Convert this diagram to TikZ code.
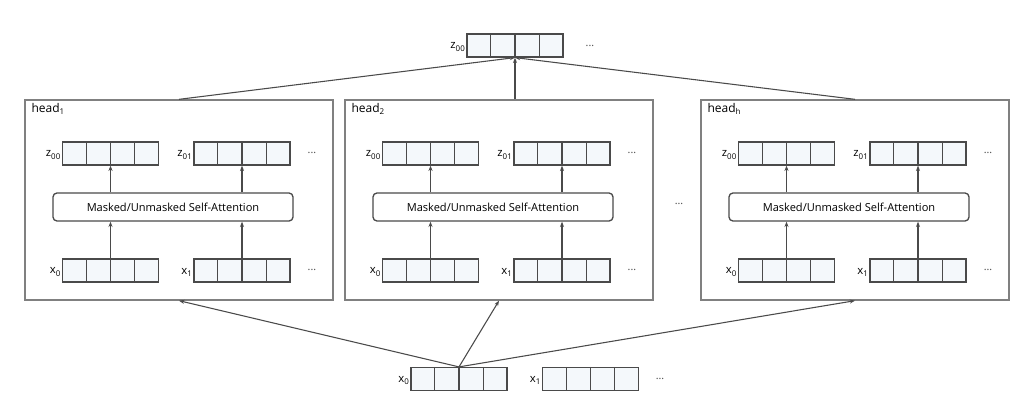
\documentclass[tikz,border=0pt]{standalone}
\usepackage{fontspec}
\setmainfont{Open Sans}
\usetikzlibrary{calc,arrows.meta}
\definecolor{cellfill}{HTML}{F4F8FB}
\definecolor{linecol}{HTML}{4A4A4A}
\definecolor{boxcol}{HTML}{808080}
\tikzset{
  vecnode/.style={draw=linecol, line width=0.9pt, fill=cellfill, minimum width=72pt, minimum height=17.25pt, inner sep=0pt},
  cellline/.style={draw=linecol, line width=0.9pt},
  headbox/.style={draw=boxcol, line width=1pt, fill=white, minimum width=231pt, minimum height=150pt, inner sep=0pt},
  attbox/.style={draw=linecol, line width=1pt, rounded corners=3pt, fill=white, minimum width=180pt, minimum height=21pt, inner sep=0pt, font=\fontsize{8.3}{10}\selectfont},
  lbl/.style={anchor=east, inner sep=0.5pt, font=\fontsize{8.5}{10}\selectfont},
  dots/.style={inner sep=0pt, font=\fontsize{8}{10}\selectfont, text=linecol},
  headlbl/.style={anchor=north west, inner sep=0pt, font=\fontsize{9}{11}\selectfont},
  arr/.style={draw=linecol, line width=0.8pt, -{Stealth[length=4pt,width=3pt]}},
}
\newcommand\vecbox[2]{%
  \node[vecnode] (#1) at (#2) {};
  \foreach \f in {0.25,0.5,0.75}
    \draw[cellline] ($(#1.north west)!\f!(#1.north east)$) -- ($(#1.south west)!\f!(#1.south east)$);
}
\newcommand\headblock[3]{% name, x-offset, subscript
  \node[headbox] (#1) at (179+#2,200) {};
  \node[headlbl] (#1lbl) at ($(#1.north west)+(7,4)$) {head\textsubscript{#3}};
  \vecbox{#1z0}{110.5+#2,153.5}
  \vecbox{#1z1}{242+#2,153.5}
  \vecbox{#1x0}{110.5+#2,270.5}
  \vecbox{#1x1}{242+#2,270.5}
  \node[lbl] (#1z0l) at ($(#1z0.west)+(0,1.5)$) {z\textsubscript{00}};
  \node[lbl] (#1z1l) at ($(#1z1.west)+(0,1.5)$) {z\textsubscript{01}};
  \node[lbl] (#1x0l) at ($(#1x0.west)+(0,1.5)$) {x\textsubscript{0}};
  \node[lbl] (#1x1l) at ($(#1x1.west)+(0,1.5)$) {x\textsubscript{1}};
  \node[dots] (#1zd) at (312+#2,153) {...};
  \node[dots] (#1xd) at (312+#2,270) {...};
  \node[attbox] (#1att) at (173+#2,207) {Masked/Unmasked Self-Attention};
  \draw[arr] (#1x0.north) -- (#1x0.north |- #1att.south);
  \draw[arr] (#1x1.north) -- (#1x1.north |- #1att.south);
  \draw[arr] (#1z0.south |- #1att.north) -- (#1z0.south);
  \draw[arr] (#1z1.south |- #1att.north) -- (#1z1.south);
}
\begin{document}
\begin{tikzpicture}[x=0.75pt,y=-0.75pt]
\useasboundingbox[fill=white] (0,0) rectangle (1021,407);
\headblock{ha}{0}{1}
\headblock{hb}{320}{2}
\headblock{hc}{676}{h}
\node[dots] (middots) at (679,204) {...};
% top output
\vecbox{zt}{515,45.5}
\node[lbl] (ztl) at ($(zt.west)+(0,1.5)$) {z\textsubscript{00}};
\node[dots] (ztd) at (590,46) {...};
% bottom input
\vecbox{xb0}{459,379}
\vecbox{xb1}{590.5,379}
\node[lbl] (xb0l) at ($(xb0.west)+(0,1.5)$) {x\textsubscript{0}};
\node[lbl] (xb1l) at ($(xb1.west)+(0,1.5)$) {x\textsubscript{1}};
\node[dots] (xbd) at (660,379) {...};
% connectors
\draw[arr] (ha.north) -- (zt.south);
\draw[arr] (hb.north -| zt.south) -- (zt.south);
\draw[arr] (hc.north) -- (zt.south);
\draw[arr] (xb0.north) -- (ha.south);
\draw[arr] (xb0.north) -- (hb.south);
\draw[arr] (xb0.north) -- (hc.south);
\end{tikzpicture}
\end{document}
